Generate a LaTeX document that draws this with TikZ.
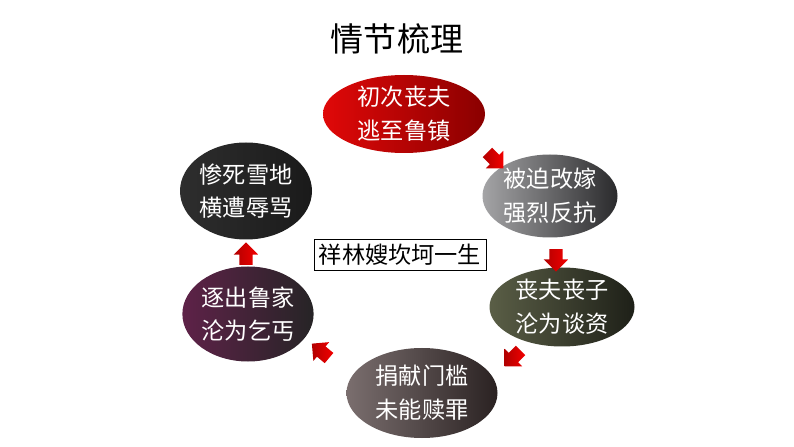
\documentclass[tikz,border=0pt]{standalone}
\usepackage{fontspec}
\newfontfamily\cjk{Noto Sans CJK SC}
\usepackage{tikz}
\usetikzlibrary{shapes.geometric,shapes.arrows}
\usepackage{xcolor}
\definecolor{redL}{HTML}{E00808}
\definecolor{redR}{HTML}{8A0000}
\definecolor{grayL}{HTML}{A4A4A6}
\definecolor{grayR}{HTML}{2A2A2C}
\definecolor{oliveL}{HTML}{5A5E46}
\definecolor{oliveR}{HTML}{1E2018}
\definecolor{brownL}{HTML}{7A6E6E}
\definecolor{brownR}{HTML}{2A2222}
\definecolor{plumL}{HTML}{5E2248}
\definecolor{plumR}{HTML}{262426}
\definecolor{inkL}{HTML}{2E2E2E}
\definecolor{inkR}{HTML}{1A1A1A}

\begin{document}
\begin{tikzpicture}[
    stage/.style={ellipse, inner sep=0pt, text=white, align=center,
      font=\cjk\fontsize{16.5}{24}\selectfont},
    turn/.style={single arrow, draw=none, inner xsep=0pt, inner ysep=0.16cm,
      minimum height=0.56cm, minimum width=0.6cm,
      single arrow head extend=0.14cm,
      left color=red!70!black, right color=red!95!black},
  ]
  \useasboundingbox[fill=white] (0,0) rectangle (19.85,-11.175);
  % Title
  \node[font=\cjk\fontsize{23.5}{28}\selectfont] (title) at (9.925,-0.975)
    {情节梳理};
  % Stages, clockwise from the top
  \node[stage, minimum width=4.05cm, minimum height=1.95cm,
    left color=redL, right color=redR] (e1) at (10.1,-2.85)
    {初次丧夫\\逃至鲁镇};
  \node[stage, minimum width=3.375cm, minimum height=2.075cm,
    left color=grayL, right color=grayR] (e2) at (13.75,-4.9)
    {被迫改嫁\\强烈反抗};
  \node[stage, minimum width=3.625cm, minimum height=1.975cm,
    left color=oliveL, right color=oliveR] (e3) at (14.05,-7.675)
    {丧夫丧子\\沦为谈资};
  \node[stage, minimum width=3.775cm, minimum height=2.25cm,
    left color=brownL, right color=brownR] (e4) at (10.55,-9.825)
    {捐献门槛\\未能赎罪};
  \node[stage, minimum width=3.175cm, minimum height=2.375cm,
    left color=plumL, right color=plumR] (e5) at (6.2,-7.85)
    {逐出鲁家\\沦为乞丐};
  \node[stage, minimum width=3.3cm, minimum height=2.425cm,
    left color=inkL, right color=inkR] (e6) at (6.15,-4.775)
    {惨死雪地\\横遭辱骂};
  % Centre label
  \node[draw, thin, minimum width=3.925cm, minimum height=0.775cm,
    font=\cjk\fontsize{16.5}{20}\selectfont] (life) at (10.0,-6.375)
    {祥林嫂坎坷一生};

  % Arrows
  \node[turn, rotate=-45]  (a12) at (12.325,-3.95) {};
  \node[turn, rotate=-90]  (a23) at (13.9,-6.425) {};
  \node[turn, rotate=-135] (a34) at (12.875,-8.9) {};
  \node[turn, rotate=140]  (a45) at (8.075,-8.825) {};
  \node[turn, rotate=90]   (a56) at (6.15,-6.425) {};
\end{tikzpicture}
\end{document}
